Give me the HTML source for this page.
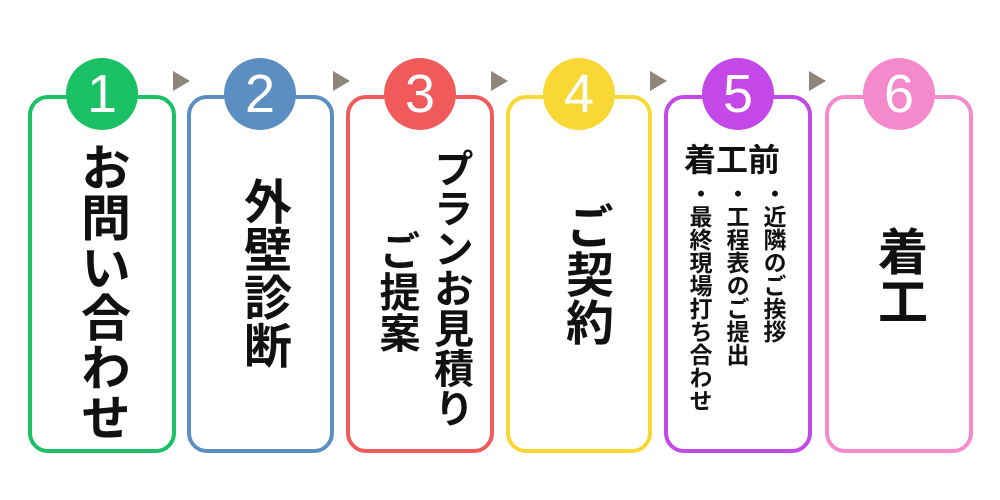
<!DOCTYPE html>
<html><head><meta charset="utf-8"><style>
body{margin:0;width:1000px;height:500px;background:#fff;position:relative;overflow:hidden;font-family:"Liberation Sans","Noto Sans CJK JP",sans-serif;}
.card{position:absolute;top:95px;height:358px;border:4px solid;border-radius:20px;box-sizing:border-box;background:#fff;}
.c{position:absolute;top:58px;width:72px;height:72px;border-radius:50%;color:#fff;font-size:54px;text-align:center;line-height:72px;font-family:"Liberation Sans",sans-serif;}
.v{position:absolute;writing-mode:vertical-rl;font-weight:bold;color:#111;white-space:nowrap;}
.ar{position:absolute;top:71px;width:0;height:0;border-top:10px solid transparent;border-bottom:10px solid transparent;border-left:17px solid #8c877a;}
</style></head><body>
<div class="card" style="left:28px;width:148px;border-color:#19c064"></div>
<div class="card" style="left:187px;width:147px;border-color:#5b8fc2"></div>
<div class="card" style="left:346px;width:148px;border-color:#f05a5a"></div>
<div class="card" style="left:506px;width:146px;border-color:#f9d835"></div>
<div class="card" style="left:664px;width:148px;border-color:#c447e8"></div>
<div class="card" style="left:825px;width:148px;border-color:#f489cc"></div>

<div class="c" style="left:66px;background:#19c064">1</div>
<div class="c" style="left:224px;background:#5b8fc2">2</div>
<div class="c" style="left:384px;background:#f05a5a">3</div>
<div class="c" style="left:543px;background:#f9d835">4</div>
<div class="c" style="left:702px;background:#c447e8">5</div>
<div class="c" style="left:863px;background:#f489cc">6</div>

<div class="ar" style="left:173px"></div>
<div class="ar" style="left:333px"></div>
<div class="ar" style="left:491px"></div>
<div class="ar" style="left:650px"></div>
<div class="ar" style="left:809px"></div>

<div class="v" style="left:74px;top:142px;font-size:50px;line-height:56px">お問い合わせ</div>
<div class="v" style="left:236px;top:177px;font-size:48px;line-height:52px">外壁診断</div>
<div class="v" style="left:428px;top:148px;font-size:40px;line-height:44px">プランお見積り</div>
<div class="v" style="left:374px;top:230px;font-size:41px;line-height:44px">ご提案</div>
<div class="v" style="left:558px;top:202px;font-size:48px;line-height:52px">ご契約</div>
<div style="position:absolute;left:684px;top:140px;font-size:32px;font-weight:bold;color:#111;line-height:40px;white-space:nowrap">着工前</div>
<div class="v" style="left:759px;top:182px;font-size:23px;line-height:28px">・近隣のご挨拶</div>
<div class="v" style="left:722px;top:182px;font-size:23px;line-height:28px">・工程表のご提出</div>
<div class="v" style="left:685px;top:182px;font-size:23px;line-height:28px">・最終現場打ち合わせ</div>
<div class="v" style="left:872px;top:226px;font-size:50px;line-height:54px">着工</div>
</body></html>
